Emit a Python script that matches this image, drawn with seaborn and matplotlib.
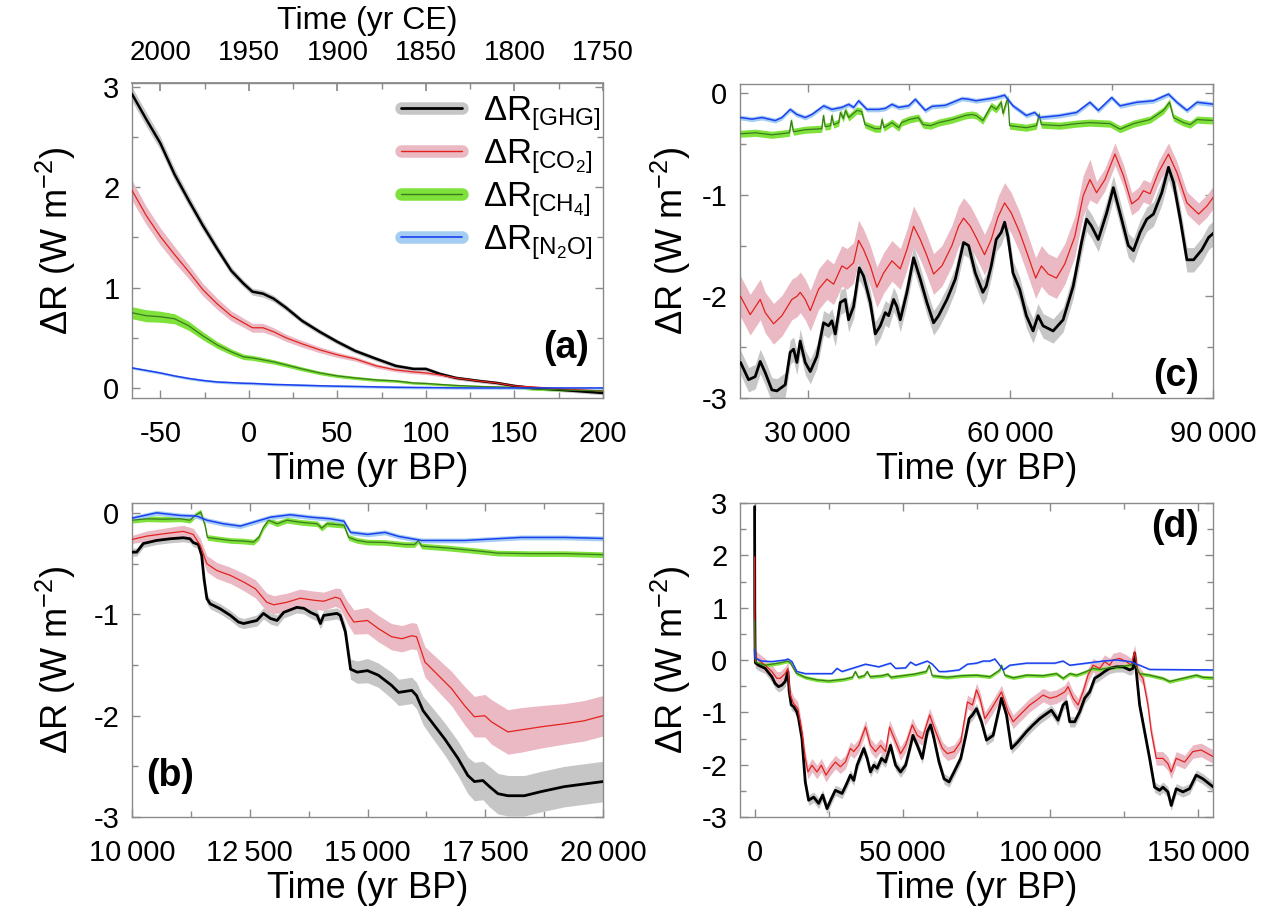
import numpy as np
import matplotlib
matplotlib.use("Agg")
import matplotlib.pyplot as plt
from matplotlib.lines import Line2D
from matplotlib.ticker import MultipleLocator, FixedLocator, FuncFormatter
import seaborn as sns

# ---------------- data: panel (a) ----------------
ta = [-66, -58, -50, -42, -34, -26, -18, -10, -3, 2, 8, 14, 21, 30, 40, 50, 60, 72, 83, 93,
      100, 108, 117, 130, 140, 150, 160, 177, 200]
ghg_a = [2.93, 2.68, 2.44, 2.13, 1.87, 1.62, 1.39, 1.17, 1.04, 0.96, 0.94, 0.89, 0.80, 0.67, 0.56,
         0.46, 0.37, 0.29, 0.22, 0.19, 0.19, 0.14, 0.10, 0.07, 0.05, 0.02, 0.00, -0.02, -0.05]
co2_a = [1.97, 1.72, 1.51, 1.33, 1.16, 0.98, 0.84, 0.72, 0.65, 0.60, 0.60, 0.56, 0.50, 0.44, 0.38,
         0.33, 0.29, 0.22, 0.18, 0.16, 0.15, 0.13, 0.10, 0.07, 0.05, 0.02, 0.01, -0.01, -0.03]
ch4_a = [0.75, 0.72, 0.71, 0.69, 0.62, 0.52, 0.43, 0.36, 0.31, 0.30, 0.28, 0.26, 0.23, 0.19, 0.15,
         0.12, 0.10, 0.08, 0.07, 0.05, 0.045, 0.035, 0.025, 0.015, 0.01, 0.005, -0.01, -0.02, -0.03]
n2o_a = [0.20, 0.175, 0.15, 0.12, 0.095, 0.075, 0.06, 0.053, 0.047, 0.045, 0.04, 0.035, 0.032, 0.027,
         0.022, 0.018, 0.015, 0.011, 0.007, 0.005, 0.004, 0.003, 0.001, 0.0, 0.0, 0.0, 0.0, 0.0, 0.0]
ghg_a_sd = [0.07, 0.07, 0.065, 0.06, 0.055, 0.05, 0.045, 0.04, 0.035, 0.035, 0.035, 0.032, 0.03,
            0.028, 0.027, 0.025, 0.024, 0.023, 0.022, 0.021, 0.021, 0.02, 0.019, 0.018, 0.018, 0.018,
            0.018, 0.018, 0.018]
co2_a_sd = [0.1, 0.09, 0.085, 0.08, 0.07, 0.062, 0.056, 0.05, 0.045, 0.045, 0.044, 0.04, 0.036, 0.033,
            0.029, 0.026, 0.023, 0.021, 0.019, 0.018, 0.017, 0.016, 0.015, 0.014, 0.014, 0.013, 0.013,
            0.013, 0.013]
ch4_a_sd = [0.06, 0.06, 0.055, 0.05, 0.045, 0.04, 0.034, 0.03, 0.027, 0.025, 0.024, 0.022, 0.021,
            0.02, 0.018, 0.017, 0.016, 0.015, 0.014, 0.013, 0.013, 0.012, 0.012, 0.012, 0.012, 0.012,
            0.012, 0.012, 0.012]
n2o_a_sd = 0.013
ce_ticks = [2000, 1950, 1900, 1850, 1800, 1750]

# ---------------- data: panel (b) ----------------
ghg_b_t = [10000, 10100, 10240, 10520, 10810, 11090, 11230, 11300, 11410, 11480, 11530, 11590, 11660,
           11870, 12090, 12260, 12370, 12650, 12790, 12940, 13080, 13220, 13500, 13650, 13790, 13930,
           14000, 14070, 14350, 14420, 14530, 14640, 14780, 15000, 15230, 15510, 15660, 15940, 16040,
           16180, 16360, 16640, 16920, 17130, 17270, 17450, 17590, 17770, 17980, 18330, 18680, 19180,
           20000]
ghg_b = [-0.385, -0.385, -0.30, -0.27, -0.253, -0.243, -0.253, -0.29, -0.31, -0.42, -0.65, -0.845,
         -0.895, -0.944, -1.01, -1.075, -1.09, -1.06, -0.99, -1.04, -1.06, -0.98, -0.93, -0.94, -0.98,
         -1.01, -1.09, -1.01, -0.99, -1.01, -1.17, -1.54, -1.57, -1.555, -1.60, -1.70, -1.77, -1.75,
         -1.80, -1.95, -2.06, -2.23, -2.42, -2.59, -2.65, -2.64, -2.70, -2.77, -2.79, -2.79, -2.75,
         -2.70, -2.65]
ghg_b_sd = [0.04] * 10 + [0.05] * 7 + [0.055] * 13 + [0.08, 0.1, 0.11, 0.12, 0.12, 0.13, 0.13, 0.13,
            0.13, 0.14] + [0.15, 0.16, 0.17, 0.18, 0.19, 0.19, 0.2, 0.2, 0.2, 0.2, 0.2, 0.2, 0.2]
co2_b_t = [10000, 10310, 10670, 11090, 11300, 11450, 11590, 11800, 12090, 12370, 12620, 12860, 13010,
           13290, 13570, 13860, 14070, 14320, 14420, 14570, 14710, 15000, 15230, 15510, 15730, 15940,
           16040, 16220, 16500, 16780, 17060, 17270, 17490, 17630, 17980, 18260, 18680, 19180, 19600,
           20000]
co2_b = [-0.26, -0.227, -0.204, -0.18, -0.21, -0.32, -0.50, -0.566, -0.615, -0.68, -0.747, -0.88,
         -0.905, -0.88, -0.84, -0.86, -0.87, -0.83, -0.845, -0.977, -1.075, -1.06, -1.14, -1.22, -1.24,
         -1.21, -1.22, -1.47, -1.60, -1.73, -1.90, -2.01, -2.00, -2.06, -2.16, -2.14, -2.11, -2.08,
         -2.05, -2.00]
co2_b_sd = [0.04, 0.05, 0.055, 0.06, 0.06, 0.07, 0.08, 0.08, 0.08, 0.085, 0.09, 0.09, 0.09, 0.09, 0.09,
            0.09, 0.09, 0.09, 0.1, 0.11, 0.12, 0.13, 0.13, 0.13, 0.13, 0.13, 0.13, 0.15, 0.16, 0.17,
            0.19, 0.2, 0.21, 0.22, 0.22, 0.22, 0.21, 0.2, 0.2, 0.2]
ch4_b_t = [10000, 10310, 10670, 11020, 11230, 11340, 11460, 11550, 11600, 11800, 12090, 12370, 12580,
           12690, 12790, 12900, 13080, 13290, 13570, 13930, 14030, 14140, 14500, 14600, 14780, 15000,
           15370, 15800, 16000, 16080, 16150, 16710, 17270, 17770, 18470, 19180, 20000]
ch4_b = [-0.07, -0.056, -0.06, -0.056, -0.07, -0.023, 0.01, -0.12, -0.24, -0.253, -0.27, -0.276,
         -0.286, -0.24, -0.14, -0.07, -0.105, -0.07, -0.09, -0.105, -0.148, -0.105, -0.12, -0.24, -0.27,
         -0.286, -0.29, -0.31, -0.31, -0.27, -0.325, -0.345, -0.37, -0.395, -0.40, -0.40, -0.41]
ch4_b_sd = 0.028
n2o_b_t = [10000, 10520, 11020, 11380, 11590, 11940, 12300, 12650, 12940, 13360, 13790, 14210, 14500,
           14640, 15000, 15370, 15660, 16150, 17060, 18260, 19180, 20000]
n2o_b = [-0.05, 0.003, -0.023, -0.03, -0.07, -0.105, -0.128, -0.08, -0.04, -0.016, -0.04, -0.056,
         -0.08, -0.19, -0.21, -0.19, -0.23, -0.27, -0.27, -0.24, -0.24, -0.25]
n2o_b_sd = 0.024

# ---------------- data: panel (c) ----------------
ghg_c_t = [20080, 21270, 22250, 22990, 23730, 24720, 25460, 26690, 27430, 27930, 28420, 28910, 29650,
           30400, 31380, 32370, 33110, 33600, 34100, 34840, 35580, 36070, 36810, 37650, 38290, 39280,
           40020, 40760, 41500, 41990, 42730, 43220, 43720, 44700, 45690, 46680, 47660, 48650, 49390,
           50630, 51860, 53090, 53830, 54820, 55940, 56440, 57180, 57920, 58660, 59160, 59650, 60400,
           61390, 62380, 63370, 64110, 64850, 66340, 67820, 69310, 70540, 71290, 72030, 73020, 74260,
           75250, 76240, 77470, 78220, 79210, 80200, 81190, 82420, 83410, 84160, 85150, 86140, 87130,
           88360, 89350, 90200]
ghg_c = [-2.65, -2.82, -2.79, -2.64, -2.75, -2.92, -2.93, -2.87, -2.55, -2.52, -2.65, -2.44, -2.65,
         -2.74, -2.59, -2.26, -2.29, -2.24, -2.37, -2.06, -2.03, -2.23, -2.10, -1.72, -1.80, -2.06,
         -2.37, -2.29, -2.16, -2.19, -2.03, -2.10, -2.23, -1.96, -1.62, -1.83, -2.06, -2.26, -2.19,
         -2.03, -1.83, -1.47, -1.50, -1.77, -1.96, -1.90, -1.70, -1.44, -1.37, -1.27, -1.41, -1.77,
         -1.93, -2.19, -2.34, -2.19, -2.29, -2.34, -2.23, -1.90, -1.47, -1.24, -1.31, -1.44, -1.18,
         -0.93, -1.18, -1.50, -1.55, -1.37, -1.24, -1.19, -0.98, -0.73, -0.88, -1.24, -1.64, -1.64,
         -1.54, -1.42, -1.37]
ghg_c_sd = 0.12
co2_c_t = [20080, 21510, 22990, 23730, 24970, 26200, 27680, 28420, 28910, 29650, 30400, 31630, 32860,
           33850, 35080, 35820, 36810, 37550, 38290, 39280, 40260, 41250, 42480, 43720, 44700, 45690,
           46680, 47660, 48650, 49880, 51360, 52350, 53090, 54080, 54950, 56190, 57180, 58170, 59160,
           60150, 61390, 62620, 63760, 64600, 65590, 66830, 68070, 69550, 70790, 71780, 72770, 74010,
           75490, 76730, 77970, 78960, 79700, 80690, 81930, 83410, 84650, 86140, 87870, 89110, 90200]
co2_c = [-2.00, -2.18, -2.03, -2.16, -2.27, -2.19, -2.03, -2.00, -1.96, -2.03, -2.14, -1.93, -1.83,
         -1.88, -1.70, -1.73, -1.67, -1.45, -1.54, -1.70, -1.91, -1.77, -1.65, -1.73, -1.54, -1.31,
         -1.44, -1.60, -1.78, -1.70, -1.50, -1.31, -1.23, -1.31, -1.42, -1.59, -1.44, -1.22, -1.08,
         -1.18, -1.37, -1.60, -1.82, -1.70, -1.78, -1.82, -1.68, -1.41, -1.01, -0.85, -0.98, -0.85,
         -0.60, -0.81, -1.09, -1.04, -0.96, -0.99, -0.78, -0.60, -0.78, -1.08, -1.19, -1.11, -1.01]
co2_c_sd = [0.2] * 50 + [0.11] * 15
ch4_c_t = [20000, 22300, 24700, 27300, 27600, 27900, 29600, 32100, 32350, 32600, 33400, 33600, 33850,
           34600, 34850, 35300, 35600, 36100, 37300, 38000, 38500, 40000, 40800, 41000, 41300, 42500,
           43500, 43900, 45000, 46400, 47100, 48200, 49400, 51400, 53300, 54300, 54950, 55940, 57180,
           57920, 58660, 58910, 59400, 59650, 59900, 62380, 63860, 64260, 64600, 67330, 69800, 71780,
           74750, 76240, 78220, 80690, 82670, 83560, 84160, 85640, 86630, 87620, 90200]
ch4_c = [-0.40, -0.39, -0.41, -0.39, -0.27, -0.38, -0.36, -0.35, -0.22, -0.33, -0.32, -0.22, -0.31,
         -0.29, -0.19, -0.25, -0.17, -0.24, -0.17, -0.18, -0.31, -0.35, -0.35, -0.26, -0.34, -0.29,
         -0.34, -0.29, -0.26, -0.24, -0.31, -0.32, -0.29, -0.26, -0.22, -0.21, -0.22, -0.27, -0.125,
         -0.16, -0.09, -0.20, -0.09, -0.05, -0.32, -0.34, -0.32, -0.21, -0.31, -0.32, -0.30, -0.29,
         -0.30, -0.355, -0.30, -0.26, -0.17, -0.09, -0.24, -0.29, -0.31, -0.26, -0.27]
ch4_c_sd = 0.035
n2o_c_t = [20080, 21760, 23240, 25210, 26200, 27430, 28420, 29650, 30640, 32370, 33600, 35080, 36070,
           36810, 37550, 38780, 40510, 41500, 42480, 43470, 44950, 45940, 47420, 48400, 50380, 52840,
           53830, 54920, 56440, 57920, 59160, 60400, 62380, 63610, 64360, 67330, 69800, 71780, 73020,
           75000, 76240, 78710, 81190, 83410, 84650, 86140, 87620, 90200]
n2o_c = [-0.24, -0.256, -0.24, -0.27, -0.24, -0.16, -0.21, -0.24, -0.21, -0.125, -0.16, -0.14, -0.11,
         -0.14, -0.075, -0.16, -0.16, -0.15, -0.11, -0.14, -0.125, -0.06, -0.17, -0.13, -0.12, -0.053,
         -0.06, -0.075, -0.06, -0.043, -0.02, -0.125, -0.22, -0.19, -0.24, -0.22, -0.19, -0.09, -0.17,
         -0.043, -0.125, -0.09, -0.075, -0.01, -0.09, -0.17, -0.09, -0.11]
n2o_c_sd = 0.024

# ---------------- data: panel (d) ----------------
ghg_d_t = [-66, 0, 100, 200, 340, 1240, 3510, 5770, 6900, 8030, 9160, 10290, 11200, 11650, 12330,
           13120, 14250, 14820, 15950, 17080, 18210, 19910, 21600, 22960, 24430, 25900, 27260, 28390,
           29520, 30880, 32350, 33480, 34610, 36870, 38000, 39130, 40260, 41400, 42870, 44220, 45920,
           47620, 49310, 51010, 52710, 53500, 54970, 56660, 58360, 59490, 60620, 62320, 64020, 65710,
           67410, 69670, 71370, 72500, 73630, 75000, 76690, 78380, 80630, 83450, 85140, 86830, 89080,
           91890, 94150, 96400, 98090, 100340, 102590, 104280, 105410, 106530, 108220, 109910, 111600,
           113290, 114980, 116670, 118350, 120040, 122300, 124550, 126800, 127930, 128490, 129050,
           130180, 131870, 133560, 135240, 136930, 138060, 139750, 140870, 142560, 144820, 147070,
           149320, 151570, 155170]
ghg_d = [2.93, 0.96, 0.19, -0.05, -0.06, -0.10, -0.16, -0.32, -0.45, -0.51, -0.48, -0.41, -0.22,
         -0.61, -0.86, -0.89, -0.99, -1.12, -1.50, -2.33, -2.68, -2.62, -2.74, -2.58, -2.84, -2.65,
         -2.49, -2.52, -2.55, -2.39, -2.20, -2.30, -2.01, -1.69, -1.88, -2.14, -2.01, -2.07, -1.88,
         -1.95, -1.63, -2.01, -2.14, -2.01, -1.63, -1.44, -1.63, -1.88, -1.37, -1.24, -1.50, -1.95,
         -2.27, -2.33, -2.14, -1.88, -1.44, -1.12, -1.05, -0.93, -1.18, -1.53, -1.44, -0.73, -1.05,
         -1.69, -1.56, -1.37, -1.24, -1.12, -1.05, -0.96, -1.15, -0.86, -0.80, -1.18, -1.18, -0.99,
         -0.73, -0.61, -0.35, -0.29, -0.22, -0.16, -0.13, -0.13, -0.19, -0.16, 0.13, -0.22, -0.86,
         -1.37, -1.88, -2.43, -2.49, -2.43, -2.52, -2.78, -2.46, -2.52, -2.46, -2.20, -2.27, -2.43]
ghg_d_sd = 0.1
co2_d_t = [-66, 0, 100, 200, 340, 1240, 3510, 5770, 7460, 8600, 10290, 11200, 11990, 13120, 14590,
           15950, 17080, 17980, 19340, 21040, 22510, 24090, 25560, 27260, 28950, 30650, 32350, 33480,
           35180, 37440, 39130, 40830, 42530, 44220, 45580, 47620, 49310, 51010, 53270, 54970, 56660,
           59150, 61190, 63450, 65150, 67410, 69670, 71930, 73630, 75000, 76130, 77820, 80070, 83450,
           85700, 87390, 89640, 93020, 95270, 97520, 99780, 102030, 104840, 105970, 107660, 109350,
           111040, 112720, 114410, 116670, 118350, 120040, 121170, 123420, 125670, 127360, 128490,
           129610, 131300, 132990, 134120, 135810, 138060, 139750, 140870, 142560, 145380, 148190,
           151010, 155170]
co2_d = [1.97, 0.62, 0.15, -0.03, 0.06, 0.0, -0.10, -0.22, -0.35, -0.35, -0.26, -0.16, -0.67, -0.83,
         -0.93, -1.37, -1.88, -2.14, -2.01, -2.14, -2.01, -2.20, -2.07, -1.95, -2.04, -1.95, -1.69,
         -1.75, -1.63, -1.28, -1.63, -1.75, -1.63, -1.75, -1.28, -1.56, -1.79, -1.63, -1.24, -1.44,
         -1.50, -1.05, -1.37, -1.69, -1.79, -1.75, -1.56, -0.80, -0.86, -0.57, -0.73, -1.12, -0.93,
         -0.61, -0.99, -1.18, -1.05, -0.86, -0.77, -0.67, -0.73, -0.70, -0.61, -0.51, -0.73, -0.86,
         -0.61, -0.29, -0.10, -0.16, -0.03, -0.10, 0.0, 0.03, -0.03, -0.10, 0.16, -0.22, -0.35, -0.86,
         -1.37, -1.88, -1.88, -1.98, -2.14, -1.88, -1.95, -1.75, -1.72, -1.85]
co2_d_sd = 0.13
ch4_d_t = [-66, 0, 100, 500, 3500, 8000, 11000, 12000, 14000, 17000, 21000, 25000, 30000, 33000,
           34000, 35000, 37000, 38000, 39000, 43000, 45000, 46000, 50000, 54000, 58000, 59000, 60000,
           65000, 70000, 75000, 79510, 82890, 83450, 84570, 87390, 91890, 97520, 102030, 104280,
           106530, 108780, 112160, 114410, 116670, 120040, 123420, 126800, 128490, 130180, 133560,
           138060, 140310, 142560, 144820, 149320, 151570, 155170]
ch4_d = [0.75, 0.31, 0.045, -0.05, -0.10, -0.06, -0.02, -0.05, -0.25, -0.33, -0.38, -0.40, -0.37,
         -0.33, -0.22, -0.33, -0.30, -0.22, -0.32, -0.30, -0.27, -0.33, -0.30, -0.27, -0.22, -0.10,
         -0.30, -0.33, -0.30, -0.29, -0.32, -0.19, -0.10, -0.29, -0.34, -0.29, -0.30, -0.26, -0.35,
         -0.26, -0.29, -0.22, -0.16, -0.18, -0.15, -0.13, -0.10, -0.06, -0.26, -0.29, -0.35, -0.41,
         -0.38, -0.35, -0.29, -0.33, -0.34]
ch4_d_sd = 0.035
n2o_d_t = [-66, 0, 340, 2380, 5770, 10290, 11200, 12550, 14250, 17080, 22730, 26130, 27820, 29520,
           32910, 37440, 41960, 45920, 47620, 51010, 52710, 54400, 58360, 60060, 62320, 64580, 69110,
           71930, 75000, 77250, 79510, 81200, 82320, 84010, 86260, 91890, 97520, 101460, 104280,
           106530, 112160, 117790, 122300, 126800, 130180, 133560, 155170]
n2o_d = [0.20, 0.047, 0.03, -0.02, -0.03, 0.0, 0.02, -0.03, -0.22, -0.26, -0.26, -0.26, -0.16, -0.22,
         -0.16, -0.08, -0.13, -0.06, -0.16, -0.15, -0.04, -0.10, -0.02, -0.08, -0.22, -0.22, -0.19,
         -0.08, -0.06, -0.02, -0.02, 0.02, -0.06, -0.19, -0.10, -0.06, -0.06, -0.06, -0.02, -0.10,
         -0.06, -0.02, 0.0, -0.03, -0.10, -0.18, -0.19]
n2o_d_sd = 0.015

legend_labels = [r"ΔR$_{\mathrm{[GHG]}}$", r"ΔR$_{\mathrm{[CO_2]}}$",
                 r"ΔR$_{\mathrm{[CH_4]}}$", r"ΔR$_{\mathrm{[N_2O]}}$"]

# ---------------- style ----------------
sns.set_theme(style="ticks")
plt.rcParams["font.family"] = ["Liberation Sans", "DejaVu Sans"]
plt.rcParams["mathtext.fontset"] = "custom"
plt.rcParams["mathtext.rm"] = "Liberation Sans"
plt.rcParams["mathtext.it"] = "Liberation Sans:italic"
plt.rcParams["mathtext.bf"] = "Liberation Sans:bold"
plt.rcParams["axes.unicode_minus"] = False
plt.rcParams["text.color"] = "black"
plt.rcParams["axes.labelcolor"] = "black"
plt.rcParams["xtick.labelcolor"] = "black"
plt.rcParams["ytick.labelcolor"] = "black"

C_GHG, B_GHG = "#000000", "#c6c6c6"
C_CO2, B_CO2 = "#e3221c", "#ebb9c4"
C_CH4, B_CH4 = "#3b7a1e", "#7ee23a"
C_N2O, B_N2O = "#1d3ff0", "#a3cdf2"
FRAME = "#8a8a8a"

TICK_FS = 21
LAB_FS = 26
W, H = 1266, 915


def box(l, t, r, b):
    return [l / W, 1 - b / H, (r - l) / W, (b - t) / H]


fig = plt.figure(figsize=(12.66, 9.15), dpi=100)
ax_a = fig.add_axes(box(132, 83, 603, 398))
ax_b = fig.add_axes(box(132, 503, 603, 817))
ax_c = fig.add_axes(box(740, 84, 1213, 398))
ax_d = fig.add_axes(box(740, 503, 1213, 817))


def series(ax, t, y, sd, col, band, lw):
    t = np.asarray(t, float)
    y = np.asarray(y, float)
    sd = np.asarray(sd, float) * np.ones_like(y)
    ax.fill_between(t, y - sd, y + sd, color=band, lw=0, zorder=1)
    sns.lineplot(x=t, y=y, ax=ax, color=col, lw=lw, estimator=None, sort=False,
                 legend=False, zorder=3)


def style(ax):
    for s in ax.spines.values():
        s.set_color(FRAME)
        s.set_linewidth(1.0)
    ax.tick_params(which="both", direction="in", top=True, right=True, color=FRAME,
                   labelsize=TICK_FS)
    ax.tick_params(axis="x", pad=16)
    ax.tick_params(axis="y", pad=9)
    ax.tick_params(which="major", length=6, width=1)
    ax.tick_params(which="minor", length=4, width=1)
    ax.set_ylabel("ΔR (W m$^{-2}$)", fontsize=LAB_FS)
    ax.set_xlabel("Time (yr BP)", fontsize=LAB_FS, labelpad=3)


def thin_fmt(v, pos):
    s = f"{int(round(v)):,}"
    return s.replace(",", "\u2009")


# ---- panel a
series(ax_a, ta, ghg_a, ghg_a_sd, C_GHG, B_GHG, 1.8)
series(ax_a, ta, co2_a, co2_a_sd, C_CO2, B_CO2, 0.9)
series(ax_a, ta, ch4_a, ch4_a_sd, C_CH4, B_CH4, 0.9)
series(ax_a, ta, n2o_a, n2o_a_sd, C_N2O, B_N2O, 1.1)
ax_a.set_xlim(-66, 200)
ax_a.set_ylim(-0.1, 3.04)
style(ax_a)
ax_a.tick_params(which="both", top=False)
ax_a.xaxis.set_major_locator(MultipleLocator(50))
ax_a.xaxis.set_minor_locator(MultipleLocator(25))
ax_a.yaxis.set_major_locator(MultipleLocator(1))
ax_a.yaxis.set_minor_locator(MultipleLocator(0.5))
sec = ax_a.secondary_xaxis("top", functions=(lambda x: 1950 - x, lambda x: 1950 - x))
sec.xaxis.set_major_locator(FixedLocator(ce_ticks))
sec.xaxis.set_minor_locator(FixedLocator([1975, 1925, 1875, 1825, 1775]))
sec.tick_params(which="both", direction="in", color=FRAME, labelsize=20, pad=12,
                labelcolor="black")
sec.tick_params(which="major", length=6)
sec.tick_params(which="minor", length=4)
sec.spines["top"].set_color(FRAME)
sec.set_xlabel("Time (yr CE)", fontsize=23, labelpad=8)
ax_a.text(0.97, 0.16, "(a)", transform=ax_a.transAxes, ha="right", va="center",
          fontsize=27, fontweight="bold")
handles = [
    (Line2D([], [], color=B_GHG, lw=9), Line2D([], [], color=C_GHG, lw=2.0)),
    (Line2D([], [], color=B_CO2, lw=9), Line2D([], [], color=C_CO2, lw=1.0)),
    (Line2D([], [], color=B_CH4, lw=9), Line2D([], [], color=C_CH4, lw=1.0)),
    (Line2D([], [], color=B_N2O, lw=9), Line2D([], [], color=C_N2O, lw=1.2)),
]
ax_a.legend(handles, legend_labels, loc="upper left", bbox_to_anchor=(0.535, 1.02),
            frameon=False, fontsize=25, handlelength=1.75, labelspacing=0.12,
            handletextpad=0.6, borderaxespad=0.1)

# ---- panel b
series(ax_b, ghg_b_t, ghg_b, ghg_b_sd, C_GHG, B_GHG, 2.0)
series(ax_b, co2_b_t, co2_b, co2_b_sd, C_CO2, B_CO2, 0.9)
series(ax_b, ch4_b_t, ch4_b, ch4_b_sd, C_CH4, B_CH4, 0.9)
series(ax_b, n2o_b_t, n2o_b, n2o_b_sd, C_N2O, B_N2O, 1.1)
ax_b.set_xlim(10000, 20000)
ax_b.set_ylim(-3, 0.1)
style(ax_b)
ax_b.xaxis.set_major_locator(MultipleLocator(2500))
ax_b.xaxis.set_minor_locator(MultipleLocator(1250))
ax_b.xaxis.set_major_formatter(FuncFormatter(thin_fmt))
ax_b.yaxis.set_major_locator(MultipleLocator(1))
ax_b.yaxis.set_minor_locator(MultipleLocator(0.5))
ax_b.text(0.03, 0.13, "(b)", transform=ax_b.transAxes, ha="left", va="center",
          fontsize=27, fontweight="bold")

# ---- panel c
series(ax_c, ghg_c_t, ghg_c, ghg_c_sd, C_GHG, B_GHG, 2.0)
series(ax_c, co2_c_t, co2_c, co2_c_sd, C_CO2, B_CO2, 0.9)
series(ax_c, ch4_c_t, ch4_c, ch4_c_sd, C_CH4, B_CH4, 0.9)
series(ax_c, n2o_c_t, n2o_c, n2o_c_sd, C_N2O, B_N2O, 1.1)
ax_c.set_xlim(20000, 90000)
ax_c.set_ylim(-3, 0.09)
style(ax_c)
ax_c.xaxis.set_major_locator(MultipleLocator(30000))
ax_c.xaxis.set_minor_locator(MultipleLocator(15000))
ax_c.xaxis.set_major_formatter(FuncFormatter(thin_fmt))
ax_c.yaxis.set_major_locator(MultipleLocator(1))
ax_c.yaxis.set_minor_locator(MultipleLocator(0.5))
ax_c.text(0.97, 0.07, "(c)", transform=ax_c.transAxes, ha="right", va="center",
          fontsize=27, fontweight="bold")

# ---- panel d
series(ax_d, ghg_d_t, ghg_d, ghg_d_sd, C_GHG, B_GHG, 2.0)
series(ax_d, co2_d_t, co2_d, co2_d_sd, C_CO2, B_CO2, 0.9)
series(ax_d, ch4_d_t, ch4_d, ch4_d_sd, C_CH4, B_CH4, 0.9)
series(ax_d, n2o_d_t, n2o_d, n2o_d_sd, C_N2O, B_N2O, 1.1)
ax_d.set_xlim(-5000, 155000)
ax_d.set_ylim(-3, 3)
style(ax_d)
ax_d.xaxis.set_major_locator(MultipleLocator(50000))
ax_d.xaxis.set_minor_locator(MultipleLocator(25000))
ax_d.xaxis.set_major_formatter(FuncFormatter(thin_fmt))
ax_d.yaxis.set_major_locator(MultipleLocator(1))
ax_d.yaxis.set_minor_locator(MultipleLocator(0.5))
ax_d.text(0.97, 0.925, "(d)", transform=ax_d.transAxes, ha="right", va="center",
          fontsize=27, fontweight="bold")

for ax in (ax_a, ax_b):
    ax.yaxis.set_label_coords(-0.115, 0.5)
for ax in (ax_c, ax_d):
    ax.yaxis.set_label_coords(-0.10, 0.5)

fig.savefig("out.png", dpi=100)
